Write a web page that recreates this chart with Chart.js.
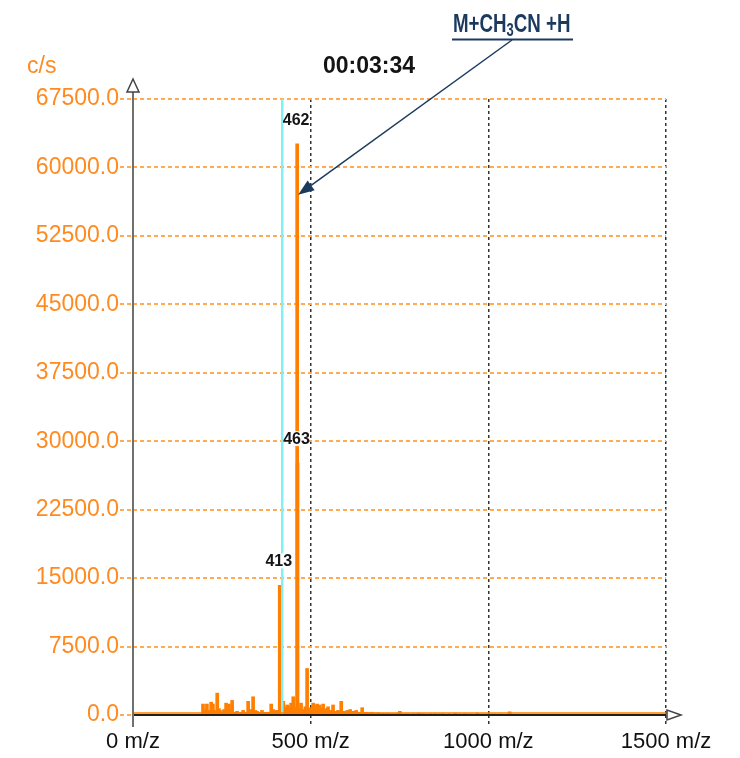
<!DOCTYPE html>
<html><head><meta charset="utf-8">
<script src="https://cdn.jsdelivr.net/npm/chart.js@4.4.1/dist/chart.umd.min.js"></script>
<style>html,body{margin:0;padding:0;background:#fff;}canvas{display:block;}</style>
</head><body>
<canvas id="c" width="740" height="758"></canvas>
<script>
// ---- data ----
const xTickValues = [0, 500, 1000, 1500];
const yStep = 7500, yMax = 67500, xMax = 1500;
const peakMz        = [413,   414,  462,   463,   490];
const peakIntensity = [14200, 5800, 62600, 27600, 5100];
const noiseMz = [197,200,203,208,211,214,220,225,228,231,234,237,242,245,248,251,256,259,262,265,268,270,273,276,279,283,287,290,293,297,301,305,310,314,318,321,324,327,330,334,338,341,344,347,349,353,358,363,367,372,376,380,385,389,394,397,400,403,406,
  418,423,426,428,431,434,437,439,442,445,448,451,454,456,459,466,468,471,473,476,479,482,485,487,493,496,499,501,504,507,510,513,516,518,521,524,527,530,533,535,538,541,545,549,552,555,559,563,566,569,573,577,581,586,590,594,598,603,607,611,616,620,624,628,632,637,641,645,650,654,658,662,668,673,679,685,690,696,703,710,717,724,734,744,751,758,770,780,790,803,813,823,837,851,862,873,890,907,920,935,950,969,983,997,1015,1034,1060,1104];
const noiseIntensity = [1200,400,600,1200,500,400,1400,1200,400,500,300,2400,700,500,300,300,600,300,1300,400,500,1200,300,600,1600,300,300,250,400,200,200,300,500,250,300,300,1500,400,600,300,2000,400,500,300,400,300,300,500,250,200,300,300,200,1200,600,400,300,500,500,
  700,1500,600,800,500,1100,600,900,500,1300,600,2000,800,700,500,600,700,500,1300,500,600,400,900,500,400,700,600,800,700,1300,800,1000,700,1200,800,1100,600,800,600,1200,500,700,600,900,500,500,400,1100,400,400,300,500,400,1500,300,400,300,500,300,600,300,400,300,500,300,300,250,800,250,300,200,250,200,300,200,200,250,150,200,150,200,150,150,200,400,150,150,120,150,200,150,120,150,150,120,150,130,200,120,150,120,200,100,100,100,100,350];
const labelledPeaks = [413, 462, 463];
const cursorMz = 420;
const timeLabel = '00:03:34';
const yUnitLabel = 'c/s';
const xUnit = ' m/z';
const annotationParts = ['M+CH', '3', 'CN +H'];

const ORANGE = '#ff7f00';
const TICK_ORANGE = '#ff8a1f';
const GRID_ORANGE = '#ffaa55';
const NAVY = '#1c3a5e';
const FONT = '"Liberation Sans", Arial, sans-serif';

const toXY = (xs, ys) => xs.map((x, i) => ({x, y: ys[i]}));

const overlay = {
  id: 'overlay',
  afterDatasetsDraw(chart) {
    const {ctx, scales: {x, y}} = chart;
    ctx.save();
    ctx.font = 'bold 16px ' + FONT;
    ctx.textAlign = 'center';
    ctx.textBaseline = 'alphabetic';
    labelledPeaks.forEach(mz => {
      const v = peakIntensity[peakMz.indexOf(mz)];
      const px = x.getPixelForValue(mz) - 1;
      const py = y.getPixelForValue(v) - 19;
      const w = ctx.measureText(String(mz)).width;
      ctx.fillStyle = '#fff';
      ctx.fillRect(px - w / 2 + 1, py - 13, w - 2, 15);
      ctx.fillStyle = '#151515';
      ctx.fillText(String(mz), px, py);
    });
    ctx.restore();
  },
  afterDraw(chart) {
    const {ctx, chartArea: ca, scales: {x, y}} = chart;
    ctx.save();
    ctx.strokeStyle = ORANGE; ctx.lineWidth = 1.5;
    ctx.beginPath(); ctx.moveTo(ca.left, ca.bottom - 2); ctx.lineTo(ca.right, ca.bottom - 2); ctx.stroke();
    ctx.strokeStyle = '#2a1f14'; ctx.lineWidth = 2;
    ctx.beginPath(); ctx.moveTo(ca.left, ca.bottom); ctx.lineTo(ca.right, ca.bottom); ctx.stroke();
    ctx.strokeStyle = '#707070'; ctx.lineWidth = 2;
    ctx.beginPath(); ctx.moveTo(ca.left, ca.top - 7); ctx.lineTo(ca.left, ca.bottom + 12); ctx.stroke();
    ctx.fillStyle = '#fff'; ctx.strokeStyle = '#444'; ctx.lineWidth = 1.5;
    ctx.beginPath(); ctx.moveTo(ca.left, ca.top - 20); ctx.lineTo(ca.left + 6, ca.top - 7); ctx.lineTo(ca.left - 6, ca.top - 7); ctx.closePath(); ctx.fill(); ctx.stroke();
    ctx.beginPath(); ctx.moveTo(ca.right + 15, ca.bottom); ctx.lineTo(ca.right + 1, ca.bottom - 5); ctx.lineTo(ca.right + 1, ca.bottom + 5); ctx.closePath(); ctx.fill(); ctx.stroke();

    ctx.font = '23px ' + FONT; ctx.fillStyle = TICK_ORANGE; ctx.textAlign = 'left'; ctx.textBaseline = 'alphabetic';
    ctx.fillText(yUnitLabel, 27, 73);
    ctx.font = 'bold 23px ' + FONT; ctx.fillStyle = '#141414';
    ctx.fillText(timeLabel, 323, 73);

    ctx.fillStyle = NAVY;
    ctx.translate(453, 32);
    ctx.scale(0.72, 1);
    let cx = 0;
    ctx.font = 'bold 26px ' + FONT; ctx.fillText(annotationParts[0], cx, 0); cx += ctx.measureText(annotationParts[0]).width;
    ctx.font = 'bold 18px ' + FONT; ctx.fillText(annotationParts[1], cx, 4); cx += ctx.measureText(annotationParts[1]).width;
    ctx.font = 'bold 26px ' + FONT; ctx.fillText(annotationParts[2], cx, 0);
    ctx.setTransform(1, 0, 0, 1, 0, 0);
    ctx.strokeStyle = NAVY; ctx.lineWidth = 2;
    ctx.beginPath(); ctx.moveTo(452, 39.5); ctx.lineTo(573, 39.5); ctx.stroke();
    const tx = x.getPixelForValue(462) + 1, ty = y.getPixelForValue(57000);
    const sx = 512, sy = 40;
    const ang = Math.atan2(ty - sy, tx - sx);
    const L = 16, W = 6;
    const bx = tx - L * Math.cos(ang), by = ty - L * Math.sin(ang);
    ctx.lineWidth = 1.5;
    ctx.beginPath(); ctx.moveTo(sx, sy); ctx.lineTo(bx, by); ctx.stroke();
    ctx.fillStyle = NAVY;
    ctx.beginPath(); ctx.moveTo(tx, ty);
    ctx.lineTo(bx + W * Math.sin(ang), by - W * Math.cos(ang));
    ctx.lineTo(bx - W * Math.sin(ang), by + W * Math.cos(ang));
    ctx.closePath(); ctx.fill();
    ctx.restore();
  }
};

new Chart(document.getElementById('c'), {
  type: 'bar',
  data: {
    datasets: [
      { type: 'line', data: [{x: cursorMz, y: 0}, {x: cursorMz, y: yMax}], borderColor: '#82f0f0', borderWidth: 2.5, pointRadius: 0, order: 0 },
      { data: toXY(peakMz, peakIntensity), backgroundColor: ORANGE, barThickness: 3, grouped: false, order: 1 },
      { data: toXY(noiseMz, noiseIntensity), backgroundColor: ORANGE, barThickness: 3, grouped: false, order: 2 }
    ]
  },
  options: {
    responsive: false, animation: false, devicePixelRatio: 1,
    layout: { padding: { top: 99, right: 74, bottom: 0, left: 0 } },
    plugins: { legend: { display: false }, tooltip: { enabled: false } },
    scales: {
      x: {
        type: 'linear', min: 0, max: xMax, offset: false,
        afterBuildTicks: s => { s.ticks = xTickValues.map(v => ({value: v})); },
        afterFit: s => { s.height = 43; s.paddingLeft = 0; s.paddingRight = 0; },
        ticks: { callback: v => v + xUnit, color: '#111', font: { family: FONT, size: 22 }, padding: 4, maxRotation: 0, autoSkip: false },
        grid: { offset: false, color: c => c.tick && c.tick.value === 0 ? 'rgba(0,0,0,0)' : '#333', lineWidth: 1.5, tickLength: 10, tickBorderDash: [3, 3], tickColor: c => c.tick && c.tick.value === 0 ? 'rgba(0,0,0,0)' : '#333' },
        border: { display: false, dash: [3, 3] }
      },
      y: {
        min: 0, max: yMax,
        afterFit: s => { s.width = 133; s.paddingTop = 0; s.paddingBottom = 0; },
        ticks: { stepSize: yStep, callback: v => v.toFixed(1), color: TICK_ORANGE, font: { family: FONT, size: 23 }, padding: 1 },
        grid: { color: c => c.tick && c.tick.value === 0 ? 'rgba(0,0,0,0)' : GRID_ORANGE, lineWidth: 2, tickLength: 13, tickColor: GRID_ORANGE, tickBorderDash: [4, 3] },
        border: { display: false, dash: [4, 3] }
      }
    }
  },
  plugins: [overlay]
});
</script>
</body></html>
